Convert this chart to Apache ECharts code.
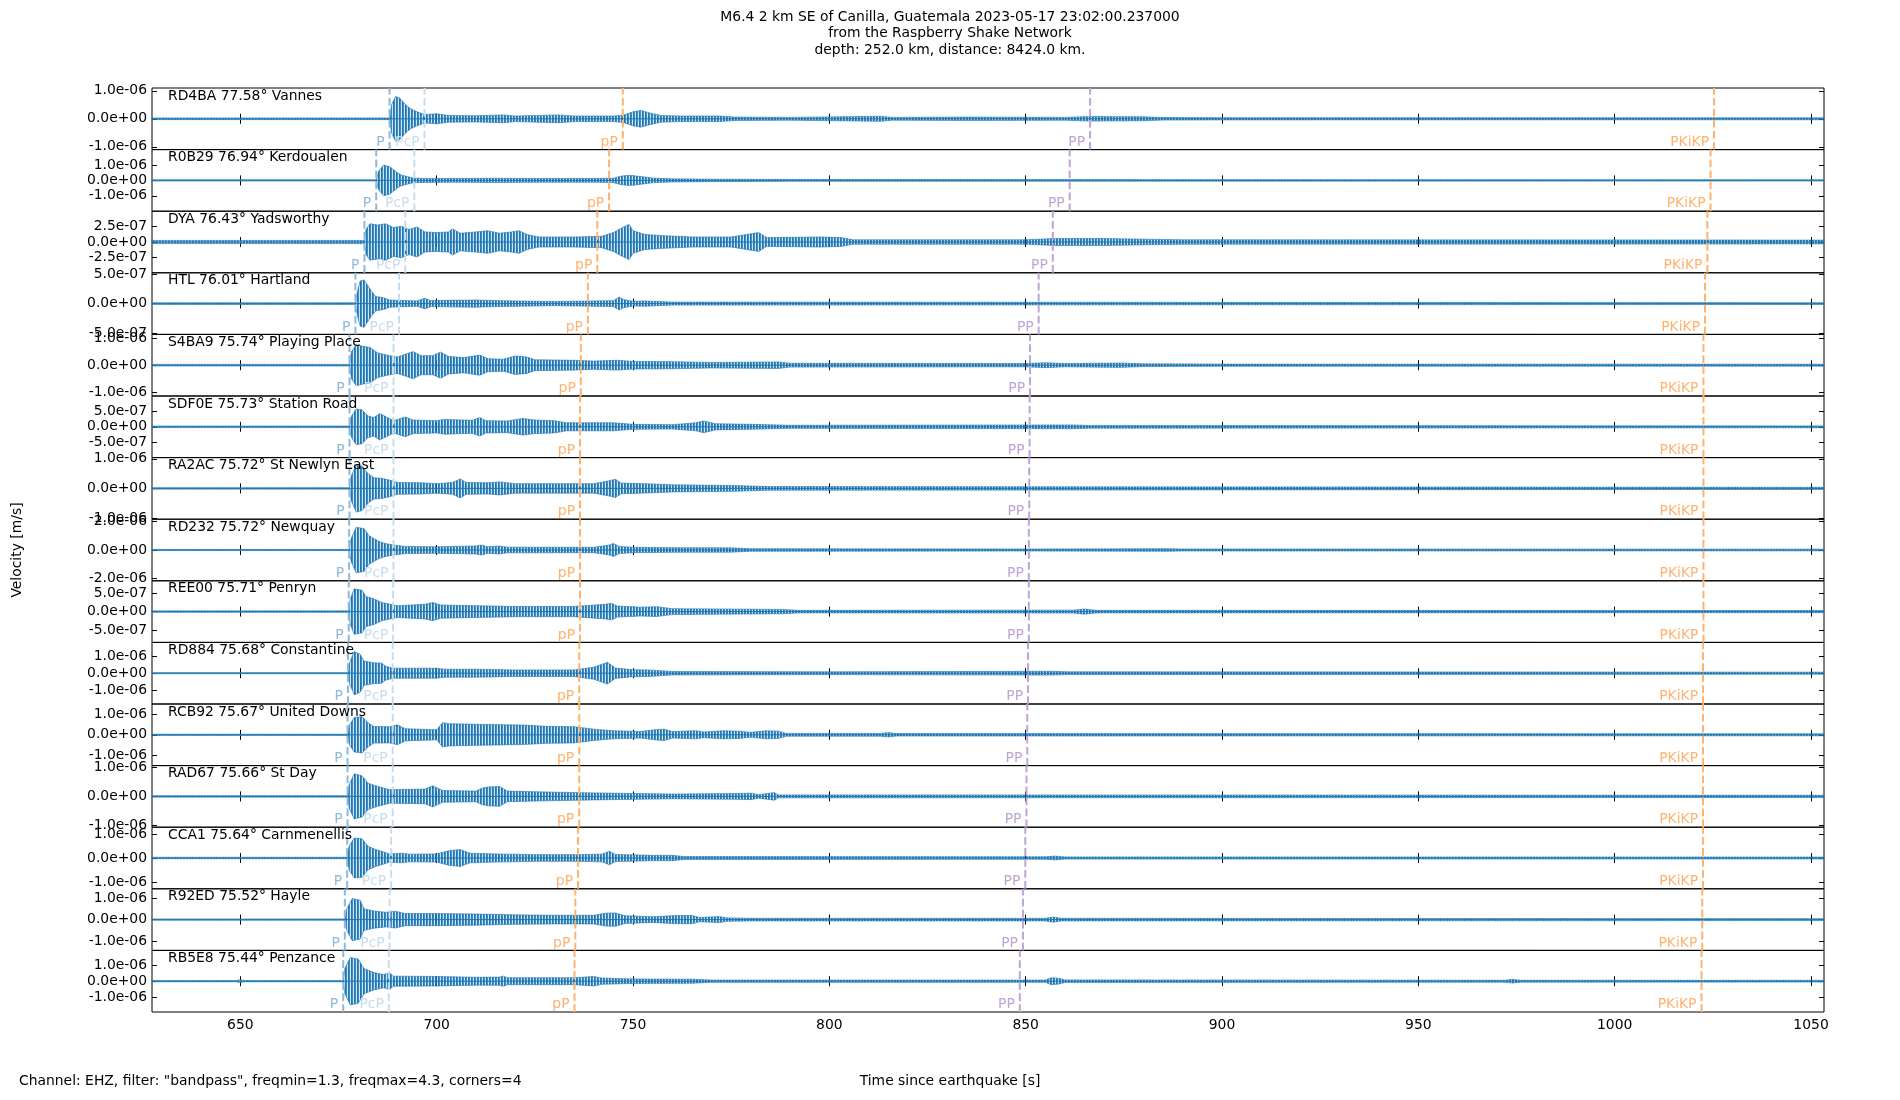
<!DOCTYPE html>
<html><head><meta charset="utf-8">
<script src="https://cdn.jsdelivr.net/npm/echarts@6/dist/echarts.min.js"></script>
<style>html,body{margin:0;padding:0;background:#fff}#c{width:1900px;height:1100px}</style>
</head><body><div id="c"></div>
<script>
// ---------------- DATA ----------------
const stations  = ['RD4BA','R0B29','DYA','HTL','S4BA9','SDF0E','RA2AC','RD232','REE00','RD884','RCB92','RAD67','CCA1','R92ED','RB5E8'];
const distances = [77.58,76.94,76.43,76.01,75.74,75.73,75.72,75.72,75.71,75.68,75.67,75.66,75.64,75.52,75.44];
const places    = ['Vannes','Kerdoualen','Yadsworthy','Hartland','Playing Place','Station Road','St Newlyn East','Newquay','Penryn','Constantine','United Downs','St Day','Carnmenellis','Hayle','Penzance'];

// y axis half range of each panel (m/s)
const yHalfRange = [1.1e-6,2.0e-6,4.9e-7,5.2e-7,1.13e-6,1.0e-6,1.04e-6,2.16e-6,8.4e-7,1.78e-6,1.52e-6,1.05e-6,1.28e-6,1.43e-6,1.95e-6];
// y tick values (m/s)
const yTickValues = [
  [-1e-6,0,1e-6],[-1e-6,0,1e-6],[-2.5e-7,0,2.5e-7],[-5e-7,0,5e-7],[-1e-6,0,1e-6],
  [-5e-7,0,5e-7],[-1e-6,0,1e-6],[-2e-6,0,2e-6],[-5e-7,0,5e-7],[-1e-6,0,1e-6],
  [-1e-6,0,1e-6],[-1e-6,0,1e-6],[-1e-6,0,1e-6],[-1e-6,0,1e-6],[-1e-6,0,1e-6]
];
const xTicks = [650,700,750,800,850,900,950,1000,1050];
const timeMin = 627.5, timeMax = 1053.3;

// phase arrival times (s since earthquake), per station
const phaseNames = ['P','PcP','pP','PP','PKiKP'];
const phaseP     = [688.0,684.6,681.6,679.3,677.8,677.8,677.8,677.7,677.6,677.4,677.3,677.3,677.2,676.6,676.2];
const phasePcP   = [696.9,694.3,692.0,690.4,689.0,689.0,689.0,689.0,688.9,688.8,688.8,688.8,688.4,688.0,687.8];
const phasepP    = [747.4,743.9,740.9,738.5,736.7,736.5,736.5,736.5,736.5,736.3,736.3,736.3,736.0,735.3,735.1];
const phasePP    = [866.4,861.2,856.9,853.3,851.1,851.0,850.9,850.8,850.8,850.6,850.4,850.2,849.9,849.3,848.5];
const phasePKiKP = [1025.3,1024.4,1023.6,1023.0,1022.6,1022.6,1022.6,1022.6,1022.6,1022.5,1022.5,1022.5,1022.5,1022.3,1022.1];

// waveform envelopes: [time s, amplitude in 1e-7 m/s]
const env_RD4BA = [[627.5,0.3],[688.0,0.3],[688.5,5],[689.5,8],[690.5,7.5],[691.5,6],[692.5,4.5],[693.5,3.5],[695,2.5],[697,1.5],[700,1.8],[703,1.2],[710,1.1],[717,1.4],[720,1.0],[731,1.4],[735,1.0],[745,1.0],[747.5,1.3],[750,2.5],[752,3.0],[754,2.2],[757,1.2],[762,1.0],[766,1.0],[772,1.0],[776,0.6],[790,0.5],[813,0.9],[816,0.5],[835,0.6],[860,0.5],[866,0.8],[880,0.7],[885,0.45],[900,0.4],[1053.3,0.35]];
const env_R0B29 = [[627.5,0.4],[684.6,0.4],[685.2,6],[686.5,10],[688,9],[689,7],[690,5],[691,3.5],[692.5,2.5],[694,1.5],[697,1.3],[705,1.2],[715,1.4],[725,1.2],[740,1.2],[745,1.4],[747,2.8],[749,3.3],[752,2.5],[755,1.5],[760,1.0],[770,0.8],[790,0.6],[900,0.5],[1053.3,0.4]];
const env_DYA   = [[627.5,0.25],[681.6,0.25],[682,2.0],[683,2.9],[685,2.7],[687,2.9],[689,2.3],[691,2.5],[693,2.0],[695,2.4],[697,1.6],[700,1.5],[703,1.6],[704,2.1],[706,1.4],[710,1.6],[713,1.8],[716,1.4],[719,1.6],[721,1.8],[723,1.2],[726,0.8],[735,0.8],[742,0.9],[745,1.5],[747,2.2],[749,2.8],[750,1.8],[753,1.2],[758,1.0],[765,0.8],[775,0.8],[780,1.3],[782,1.5],[784,0.7],[798,0.8],[803,0.7],[806,0.35],[850,0.35],[857,0.55],[870,0.55],[880,0.45],[890,0.35],[1053.3,0.3]];
const env_HTL   = [[627.5,0.15],[679.3,0.15],[679.8,2.0],[680.5,3.8],[681.5,4.0],[682.5,3.0],[683.5,2.0],[684.5,1.2],[686.5,1.0],[688,0.6],[695,0.45],[697,0.9],[698.5,0.5],[702,0.55],[710,0.6],[716,0.5],[730,0.35],[745,0.5],[746.5,1.1],[747.5,0.7],[750,0.4],[753,0.45],[760,0.25],[1053.3,0.15]];
const env_S4BA9 = [[627.5,0.3],[677.8,0.3],[678.3,5],[679.5,7.5],[681,7.0],[683,6.5],[685,4.5],[688,3.5],[690,3.0],[692,4.0],[694,5.0],[696,3.5],[699,3.5],[701,4.8],[703,3.2],[707,2.8],[711,3.7],[713,2.4],[717,2.2],[720,3.4],[723,3.0],[725,2.0],[735,1.8],[740,1.5],[746,1.8],[750,1.4],[760,1.3],[770,1.0],[787,1.2],[790,0.7],[850,0.6],[855,0.9],[860,0.6],[874,0.8],[880,0.5],[900,0.4],[1053.3,0.35]];
const env_SDF0E = [[627.5,0.25],[677.8,0.25],[678.3,3.5],[679.5,5.8],[681,5.5],[682.5,3.5],[684,3.0],[685.5,4.3],[687.5,3.0],[689,2.0],[692,3.2],[694,2.2],[700,2.0],[702,2.4],[709,2.1],[711,3.0],[712.5,2.0],[718,1.9],[722,2.7],[725,2.2],[730,2.0],[733,1.3],[745,1.3],[750,0.8],[760,0.7],[766,1.3],[768,1.9],[771,1.0],[780,0.8],[790,0.5],[862,0.6],[866,0.45],[1053.3,0.3]];
const env_RA2AC = [[627.5,0.25],[677.8,0.25],[678.2,4],[679.5,8.0],[681,7.5],[682.5,5],[684,3.6],[686,3.4],[688,2.8],[690,2.0],[696,1.9],[700,1.6],[704,2.0],[706,3.2],[707.5,2.0],[713,1.9],[716,2.2],[720,1.6],[730,1.6],[740,1.6],[744,2.6],[745.5,3.1],[747,1.8],[755,1.5],[760,1.2],[775,1.0],[785,0.6],[900,0.5],[1053.3,0.35]];
const env_RD232 = [[627.5,0.4],[677.7,0.4],[678.2,8],[679.5,16],[681.5,15],[682.8,10],[684,8],[685.5,5.8],[687,4.5],[689,3.5],[692,2.5],[700,2.3],[710,2.8],[711.5,3.5],[713,2.3],[716,2.8],[718,2.0],[740,1.9],[744,3.5],[745,4.6],[746.5,2.5],[750,1.9],[760,1.6],[775,1.5],[780,0.9],[850,0.7],[886,0.9],[890,0.7],[1053.3,0.6]];
const env_REE00 = [[627.5,0.2],[677.6,0.2],[678,3.5],[679,6.2],[681,5.8],[682,4.1],[684,3.5],[686,2.5],[690,1.6],[697,2.0],[699,2.5],[701,1.8],[710,1.6],[720,1.4],[735,1.4],[743,2.0],[744.5,2.3],[746,1.5],[752,1.2],[756,1.35],[760,0.8],[788,0.6],[792,0.35],[862,0.4],[865,0.7],[868,0.35],[1053.3,0.3]];
const env_RD884 = [[627.5,0.3],[677.4,0.3],[677.8,6],[679,12.5],[680.5,11],[681.5,7],[684,6],[686,5.8],[687,4],[689,2.9],[700,2.9],[702,2.3],[710,2.3],[720,1.9],[735,1.9],[740,3.5],[743.5,6.3],[745.5,3],[750,2.0],[754,1.9],[760,1.0],[800,0.8],[856,1.1],[861,0.8],[1053.3,0.6]];
const env_RCB92 = [[627.5,0.3],[677.3,0.3],[677.8,5],[679,8.5],[681,9.0],[682.5,6],[684,4.1],[688,4.0],[690,4.9],[692,3.0],[700,2.5],[701.5,6.0],[703,5.5],[710,5.2],[716,5.0],[722,4.8],[728,4.2],[735,4.0],[740,2.8],[745,2.0],[752,1.6],[756,2.6],[758,2.8],[760,1.6],[766,2.0],[768,1.4],[773,2.0],[777,1.8],[780,1.2],[784,2.0],[787,1.8],[789,0.7],[813,0.7],[815,1.1],[817,0.6],[1053.3,0.5]];
const env_RAD67 = [[627.5,0.25],[677.3,0.25],[677.7,4],[679,7.7],[681,7.0],[682.5,4.5],[685,3.4],[688,2.3],[697,2.5],[699,3.6],[701.5,2.0],[710,1.8],[711.5,2.8],[713,3.2],[716,3.4],[718,1.8],[728,1.5],[740,1.2],[750,1.0],[760,0.8],[777,1.0],[780,1.1],[782,0.6],[786,1.3],[787,0.5],[1053.3,0.4]];
const env_CCA1  = [[627.5,0.3],[677.2,0.3],[677.7,5],[679,8.3],[681,8.0],[682.5,4.9],[684.5,3.5],[686,2.8],[688,1.7],[691,2.0],[693,1.6],[700,1.7],[703,3.0],[706,3.5],[708.5,2.0],[715,1.7],[725,1.4],[735,1.4],[742,1.6],[744,2.8],[745.5,1.5],[755,1.1],[760,1.1],[763,0.6],[855,0.5],[857.5,0.8],[860,0.45],[1053.3,0.4]];
const env_R92ED = [[627.5,0.3],[676.6,0.3],[677.1,5],[678.5,9.8],[680.5,9.0],[681.5,5],[684,4.0],[687,3.4],[689.5,3.9],[692,2.8],[700,2.8],[710,2.6],[720,2.2],[730,2.0],[740,2.0],[743,3.0],[745.5,3.1],[748,1.8],[755,1.3],[761,1.9],[765,1.9],[767,1.0],[772,1.4],[774,0.8],[780,0.6],[855,0.6],[857,1.2],[859,0.6],[1053.3,0.45]];
const env_RB5E8 = [[627.5,0.4],[649,0.4],[650,1.0],[651,0.4],[676.2,0.4],[676.6,8],[678,15],[680,14],[681.5,8],[684,5.5],[686.5,4.2],[688,5.3],[689,3.2],[700,3.0],[710,2.5],[716,2.6],[717,3.2],[718,2.2],[735,2.2],[740,3.0],[742,2.0],[750,1.4],[765,1.3],[770,0.7],[855,0.7],[856.5,2.2],[858.5,1.8],[860,0.8],[972,0.6],[974,1.2],[976,0.6],[1053.3,0.55]];
const envelopes = [env_RD4BA,env_R0B29,env_DYA,env_HTL,env_S4BA9,env_SDF0E,env_RA2AC,env_RD232,env_REE00,env_RD884,env_RCB92,env_RAD67,env_CCA1,env_R92ED,env_RB5E8];
const AMP_UNIT = 1e-7;

// ---------------- LAYOUT / STYLE ----------------
const FONT = 'DejaVu Sans';
const FS = 13.9;
const GL = 152, GR = 76, GT = 88, PH = 61.6;
const N = stations.length;
const traceColor = '#1f77b4';
const phaseColors = ['#8fb9d9','#c7ddec','#ffb26e','#bea4d7','#ffb26e'];
const phaseTimes = [phaseP, phasePcP, phasepP, phasePP, phasePKiKP];

// vertical-stripe texture to mimic a dense oscillating trace
const pat = document.createElement('canvas');
pat.width = 3; pat.height = 1;
(function(){
  const g = pat.getContext('2d');
  const alphas = [1, 0.85, 0.2];
  for (let k = 0; k < 3; k++) { g.fillStyle = 'rgba(31,119,180,' + alphas[k] + ')'; g.fillRect(k, 0, 1, 1); }
})();
const traceFill = {image: pat, repeat: 'repeat'};

function sci(v){
  if (Math.abs(v) < 1e-30) return '0.0e+00';
  const parts = v.toExponential(1).split('e');
  const sign = parts[1][0] === '-' ? '-' : '+';
  let d = parts[1].replace(/^[+-]/,'');
  if (d.length < 2) d = '0' + d;
  return parts[0] + 'e' + sign + d;
}

const grids = [], xAxes = [], yAxes = [], series = [], graphics = [];
const tickStyle = {color:'#000', width:1};
for (let i = 0; i < N; i++) {
  const top = GT + i*PH;
  grids.push({left:GL, right:GR, top:top, height:PH, show:true, borderColor:'#000', borderWidth:1, backgroundColor:'transparent'});
  const xBase = {type:'value', gridIndex:i, min:timeMin, max:timeMax, axisLine:{show:false}, splitLine:{show:false}};
  xAxes.push(Object.assign({}, xBase, {position:'bottom',
    axisTick:{show:true, inside:true, length:5, customValues:xTicks, lineStyle:tickStyle},
    axisLabel:{show:i===N-1, customValues:xTicks, formatter:(v)=>String(v), margin:6, color:'#000', fontSize:FS, fontFamily:FONT}}));
  xAxes.push(Object.assign({}, xBase, {position:'top',
    axisTick:{show:true, inside:true, length:5, customValues:xTicks, lineStyle:tickStyle},
    axisLabel:{show:false}}));
  const r = yHalfRange[i];
  const yBase = {type:'value', gridIndex:i, min:-r, max:r, axisLine:{show:false}, splitLine:{show:false}};
  yAxes.push(Object.assign({}, yBase, {position:'left',
    axisTick:{show:true, inside:true, length:5, customValues:yTickValues[i], lineStyle:tickStyle},
    axisLabel:{show:true, customValues:yTickValues[i], formatter:sci, margin:5, color:'#000', fontSize:FS, fontFamily:FONT}}));
  yAxes.push(Object.assign({}, yBase, {position:'right',
    axisTick:{show:true, inside:true, length:5, customValues:yTickValues[i], lineStyle:tickStyle},
    axisLabel:{show:false}}));

  // waveform envelope band
  const env = envelopes[i].map(p => [p[0], p[1]*AMP_UNIT]);
  series.push({
    type:'custom', xAxisIndex:2*i, yAxisIndex:2*i, z:2, silent:true, animation:false,
    data: env, encode:{x:0, y:1},
    renderItem: function(params, api){
      if (params.dataIndex !== 0) return null;
      const up = [], dn = [], mid = [];
      for (let j = 0; j < env.length; j++) {
        up.push(api.coord([env[j][0], env[j][1]]));
        dn.push(api.coord([env[j][0], -env[j][1]]));
      }
      const a = api.coord([env[0][0], 0]), b = api.coord([env[env.length-1][0], 0]);
      return {type:'group', children:[
        {type:'polygon', shape:{points: up.concat(dn.reverse())},
         style:{fill:traceFill, stroke:traceColor, lineWidth:0.6}},
        {type:'line', shape:{x1:a[0], y1:a[1], x2:b[0], y2:b[1]}, style:{stroke:traceColor, lineWidth:1}}
      ]};
    }
  });

  // phase markers
  const pdata = phaseNames.map((n,k) => [phaseTimes[k][i], k]);
  series.push({
    type:'custom', xAxisIndex:2*i, yAxisIndex:2*i, z:5, silent:true, animation:false,
    data: pdata, encode:{x:0},
    renderItem: function(params, api){
      const t = api.value(0), k = api.value(1);
      const pb = api.coord([t, -r]), pt = api.coord([t, r]);
      const col = phaseColors[k];
      return {type:'group', children:[
        {type:'line', shape:{x1:pb[0], y1:pb[1], x2:pt[0], y2:pt[1]},
         style:{stroke:col, lineWidth:2, lineDash:[7.7,3.3]}},
        {type:'text', style:{text:phaseNames[k], x:pb[0]-5, y:pb[1]-0.5,
          align:'right', verticalAlign:'bottom', textAlign:'right', textVerticalAlign:'bottom',
          fill:col, font: FS + 'px "' + FONT + '"'}}
      ]};
    }
  });

  graphics.push({type:'text', x:168, y:top+1, z:10, silent:true,
    style:{text: stations[i] + ' ' + distances[i].toFixed(2) + '\u00b0 ' + places[i],
      fill:'#000', font: FS + 'px "' + FONT + '"', align:'left', verticalAlign:'top', textAlign:'left', textVerticalAlign:'top'}});
}

const titleLines = ['M6.4 2 km SE of Canilla, Guatemala 2023-05-17 23:02:00.237000', 'from the Raspberry Shake Network', 'depth: 252.0 km, distance: 8424.0 km.'];
titleLines.forEach((s, k) => graphics.push({type:'text', x:950, y:17 + k*16.6, silent:true,
  style:{text:s, fill:'#000', font: FS + 'px "' + FONT + '"', align:'center', verticalAlign:'middle', textAlign:'center', textVerticalAlign:'middle'}}));
graphics.push({type:'text', x:17, y:550, rotation:Math.PI/2, silent:true,
  style:{text:'Velocity [m/s]', fill:'#000', font: FS + 'px "' + FONT + '"', align:'center', verticalAlign:'middle', textAlign:'center', textVerticalAlign:'middle'}});
graphics.push({type:'text', x:19, y:1081, silent:true,
  style:{text:'Channel: EHZ, filter: "bandpass", freqmin=1.3, freqmax=4.3, corners=4', fill:'#000', font: FS + 'px "' + FONT + '"', align:'left', verticalAlign:'middle', textAlign:'left', textVerticalAlign:'middle'}});
graphics.push({type:'text', x:950, y:1081, silent:true,
  style:{text:'Time since earthquake [s]', fill:'#000', font: FS + 'px "' + FONT + '"', align:'center', verticalAlign:'middle', textAlign:'center', textVerticalAlign:'middle'}});

const chart = echarts.init(document.getElementById('c'), null, {renderer:'canvas'});
chart.setOption({
  animation:false,
  backgroundColor:'#fff',
  grid: grids, xAxis: xAxes, yAxis: yAxes, series: series,
  graphic: {elements: graphics}
});
</script></body></html>
